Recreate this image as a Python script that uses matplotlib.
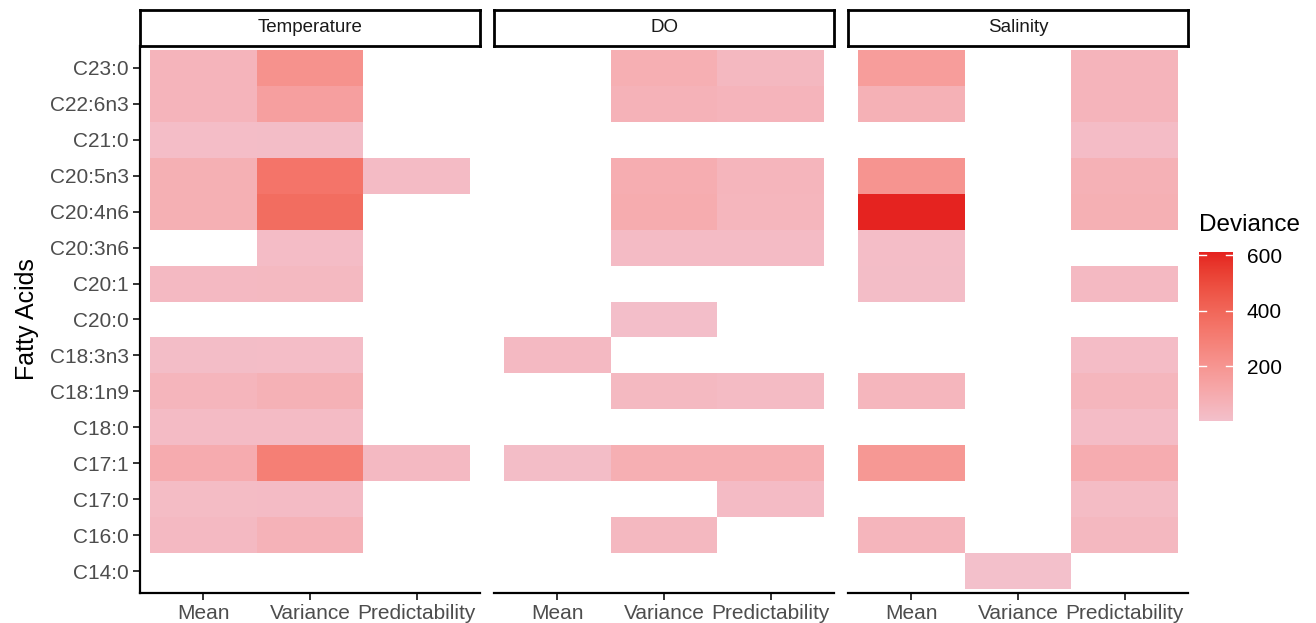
import numpy as np
import matplotlib
matplotlib.use("Agg")
import matplotlib.pyplot as plt
from matplotlib.colors import ListedColormap, Normalize, to_rgb

# ---- data -------------------------------------------------------------
fatty_acids = ["C23:0", "C22:6n3", "C21:0", "C20:5n3", "C20:4n6", "C20:3n6",
               "C20:1", "C20:0", "C18:3n3", "C18:1n9", "C18:0", "C17:1",
               "C17:0", "C16:0", "C14:0"]
metrics = ["Mean", "Variance", "Predictability"]
drivers = ["Temperature", "DO", "Salinity"]
nan = np.nan

# deviance per fatty acid (rows) and metric (Mean, Variance, Predictability)
temperature = [
    [58, 215, nan],
    [58, 155, nan],
    [18, 15, nan],
    [80, 345, 25],
    [80, 375, nan],
    [nan, 20, nan],
    [34, 38, nan],
    [nan, nan, nan],
    [16, 18, nan],
    [55, 72, nan],
    [25, 25, nan],
    [100, 300, 34],
    [23, 25, nan],
    [34, 68, nan],
    [nan, nan, nan],
]
dissolved_oxygen = [
    [nan, 85, 42],
    [nan, 68, 60],
    [nan, nan, nan],
    [nan, 90, 55],
    [nan, 98, 50],
    [nan, 25, 25],
    [nan, nan, nan],
    [nan, 12, nan],
    [34, nan, nan],
    [nan, 38, 27],
    [nan, nan, nan],
    [15, 85, 85],
    [nan, nan, 25],
    [nan, 42, nan],
    [nan, nan, nan],
]
salinity = [
    [165, nan, 58],
    [76, nan, 58],
    [nan, nan, 20],
    [205, nan, 76],
    [612, nan, 80],
    [18, nan, nan],
    [16, nan, 34],
    [nan, nan, nan],
    [nan, nan, 20],
    [50, nan, 50],
    [nan, nan, 20],
    [190, nan, 95],
    [nan, nan, 23],
    [55, nan, 42],
    [nan, 3, nan],
]
panels = [temperature, dissolved_oxygen, salinity]
cbar_ticks = [200, 400, 600]


# ---- gradient interpolated in CIE Lab, pink -> red -----------------------
def _srgb_to_lab(rgb):
    rgb = np.asarray(rgb, float)
    lin = np.where(rgb <= 0.04045, rgb / 12.92, ((rgb + 0.055) / 1.055) ** 2.4)
    m = np.array([[0.4124564, 0.3575761, 0.1804375],
                  [0.2126729, 0.7151522, 0.0721750],
                  [0.0193339, 0.1191920, 0.9503041]])
    xyz = lin @ m.T / np.array([0.95047, 1.0, 1.08883])
    f = np.where(xyz > 216 / 24389, np.cbrt(xyz), (24389 / 27 * xyz + 16) / 116)
    return np.stack([116 * f[..., 1] - 16,
                     500 * (f[..., 0] - f[..., 1]),
                     200 * (f[..., 1] - f[..., 2])], axis=-1)


def _lab_to_srgb(lab):
    lab = np.asarray(lab, float)
    fy = (lab[..., 0] + 16) / 116
    fx = fy + lab[..., 1] / 500
    fz = fy - lab[..., 2] / 200
    f = np.stack([fx, fy, fz], axis=-1)
    xyz = np.where(f ** 3 > 216 / 24389, f ** 3, (116 * f - 16) / (24389 / 27))
    xyz = xyz * np.array([0.95047, 1.0, 1.08883])
    m = np.array([[3.2404542, -1.5371385, -0.4985314],
                  [-0.9692660, 1.8760108, 0.0415560],
                  [0.0556434, -0.2040259, 1.0572252]])
    lin = np.clip(xyz @ m.T, 0, 1)
    rgb = np.where(lin <= 0.0031308, 12.92 * lin, 1.055 * lin ** (1 / 2.4) - 0.055)
    return np.clip(rgb, 0, 1)


low_lab = _srgb_to_lab(to_rgb("#F3C0CB"))
high_lab = _srgb_to_lab(to_rgb("#E52320"))
t = np.linspace(0, 1, 256)[:, None]
cmap = ListedColormap(_lab_to_srgb(low_lab + t * (high_lab - low_lab)))

all_vals = np.array(panels, float)
norm = Normalize(vmin=np.nanmin(all_vals), vmax=np.nanmax(all_vals))

# ---- layout ------------------------------------------------------------
W, H = 1316, 623
plt.rcParams["font.family"] = ["Liberation Sans", "DejaVu Sans"]
fig = plt.figure(figsize=(W / 100, H / 100), dpi=100)


def px_axes(x0, y0, x1, y1, **kw):
    return fig.add_axes([x0 / W, 1 - y1 / H, (x1 - x0) / W, (y1 - y0) / H], **kw)


tick_grey = "#4D4D4D"
n_rows = len(fatty_acids)
xpad, ypad = 0.094, 0.111
for i, (name, vals) in enumerate(zip(drivers, panels)):
    left = 140 + 354 * i
    ax = px_axes(left, 46, left + 340, 593)
    data = np.ma.masked_invalid(np.array(vals, float))
    xe = np.arange(len(metrics) + 1) - 0.5
    ye = np.arange(n_rows + 1) - 0.5
    ax.pcolormesh(xe, ye, data, cmap=cmap, norm=norm, shading="flat",
                  edgecolors="none", antialiased=False)
    ax.set_xlim(-0.5 - xpad, len(metrics) - 0.5 + xpad)
    ax.set_ylim(n_rows - 0.5 + ypad, -0.5 - ypad)
    ax.set_xticks(range(len(metrics)))
    ax.set_xticklabels(metrics)
    ax.set_yticks(range(n_rows))
    for side in ("top", "right"):
        ax.spines[side].set_visible(False)
    for side in ("left", "bottom"):
        ax.spines[side].set_linewidth(1.6)
        ax.spines[side].set_color("black")
    ax.tick_params(axis="both", labelsize=15, labelcolor=tick_grey,
                   color="#333333", width=1.4, length=5, pad=3)
    if i == 0:
        ax.set_yticklabels(fatty_acids)
        ax.set_ylabel("Fatty Acids", fontsize=18, color="black", labelpad=8)
    else:
        ax.set_yticklabels([])
        ax.tick_params(axis="y", length=0)
        ax.spines["left"].set_visible(False)

    # facet strip
    sax = px_axes(left, 10, left + 340, 46)
    sax.set_xticks([])
    sax.set_yticks([])
    for sp in sax.spines.values():
        sp.set_linewidth(2)
        sp.set_color("black")
    sax.text(0.5, 0.5, name, ha="center", va="center", fontsize=13.5,
             color="#1A1A1A", transform=sax.transAxes)

# ---- colour bar ----------------------------------------------------------
cax = px_axes(1199, 252, 1233, 421)
grad = np.linspace(norm.vmin, norm.vmax, 300)[:, None]
cax.imshow(grad, aspect="auto", origin="lower", cmap=cmap, norm=norm,
           extent=[0, 1, norm.vmin, norm.vmax], interpolation="bilinear")
cax.set_xlim(0, 1)
cax.set_ylim(norm.vmin, norm.vmax)
cax.set_xticks([])
cax.set_yticks(cbar_ticks)
cax.yaxis.tick_right()
cax.tick_params(axis="y", length=0, labelsize=15, labelcolor="black", pad=10)
for sp in cax.spines.values():
    sp.set_visible(False)
for v in cbar_ticks:
    cax.plot([0, 0.2], [v, v], color="white", lw=1)
    cax.plot([0.8, 1], [v, v], color="white", lw=1)
fig.text(1199 / W, 1 - 225 / H, "Deviance", fontsize=17.5, color="black",
         ha="left", va="center")

fig.savefig("out.png", dpi=100)
